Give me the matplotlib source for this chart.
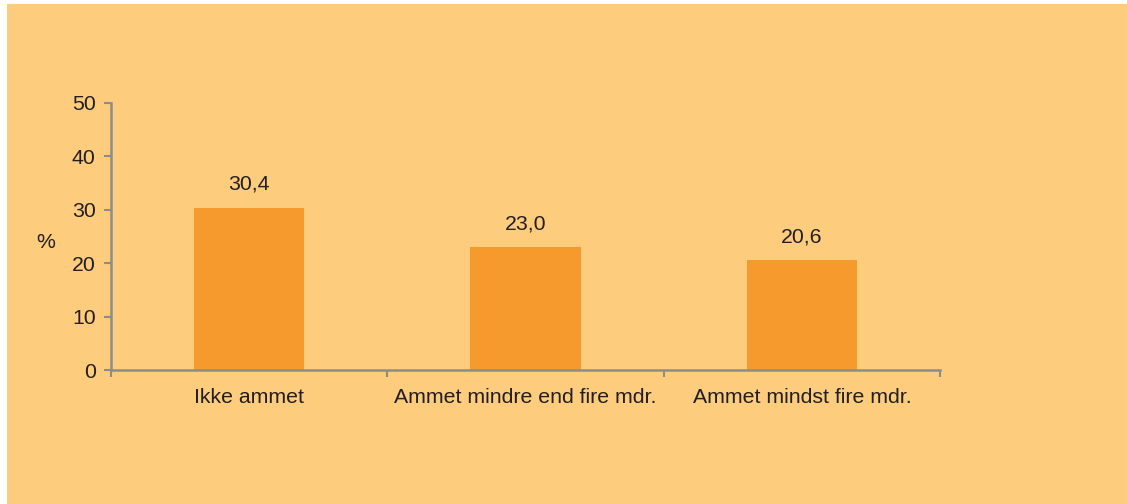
import numpy as np
from matplotlib import pyplot as plt
from matplotlib.patches import Rectangle
import matplotlib
matplotlib.rcParams['font.family'] = ['Liberation Sans', 'DejaVu Sans']

# data
categories = ['Ikke ammet', 'Ammet mindre end fire mdr.', 'Ammet mindst fire mdr.']
values = [30.4, 23.0, 20.6]
value_labels = ['30,4', '23,0', '20,6']

bg = '#FECC7D'
bar_color = '#F79A2D'
axis_color = '#8C8C8C'
text_color = '#231F20'
fs = 15.3

fig = plt.figure(figsize=(11.27, 5.04), dpi=100)
fig.patch.set_facecolor('white')
fig.add_artist(Rectangle((7 / 1127, 0), 1, 1 - 4 / 504, transform=fig.transFigure,
                         facecolor=bg, edgecolor='none', zorder=0))

ax = fig.add_axes([111 / 1127, 1 - 370 / 504, (940 - 111) / 1127, (370 - 103) / 504])
ax.set_facecolor('none')

x = np.arange(len(categories))
ax.bar(x, values, width=0.4, color=bar_color, zorder=2)
for xi, v, lab in zip(x, values, value_labels):
    ax.text(xi, v + 2.6, lab, ha='center', va='bottom', fontsize=fs, color=text_color)

ax.set_xlim(-0.5, 2.5)
ax.set_ylim(0, 50)
ax.set_yticks(np.arange(0, 51, 10))

# ticks at category boundaries, labels at centres
ax.set_xticks([-0.5, 0.5, 1.5, 2.5])
ax.set_xticklabels([])
ax.set_xticks(x, minor=True)
ax.set_xticklabels(categories, minor=True, fontsize=fs, color=text_color)
ax.tick_params(axis='x', which='minor', length=0, pad=13)
ax.tick_params(axis='x', which='major', length=5, width=1.5, color=axis_color, direction='out')
ax.tick_params(axis='y', length=5, width=1.5, color=axis_color, direction='out',
               labelsize=fs, labelcolor=text_color, pad=6)

for s in ['top', 'right']:
    ax.spines[s].set_visible(False)
for s in ['left', 'bottom']:
    ax.spines[s].set_color(axis_color)
    ax.spines[s].set_linewidth(1.8)

fig.text(46 / 1127, 1 - 242 / 504, '%', ha='center', va='center', fontsize=fs, color=text_color)

plt.savefig('out.png', dpi=100, facecolor=fig.get_facecolor())
